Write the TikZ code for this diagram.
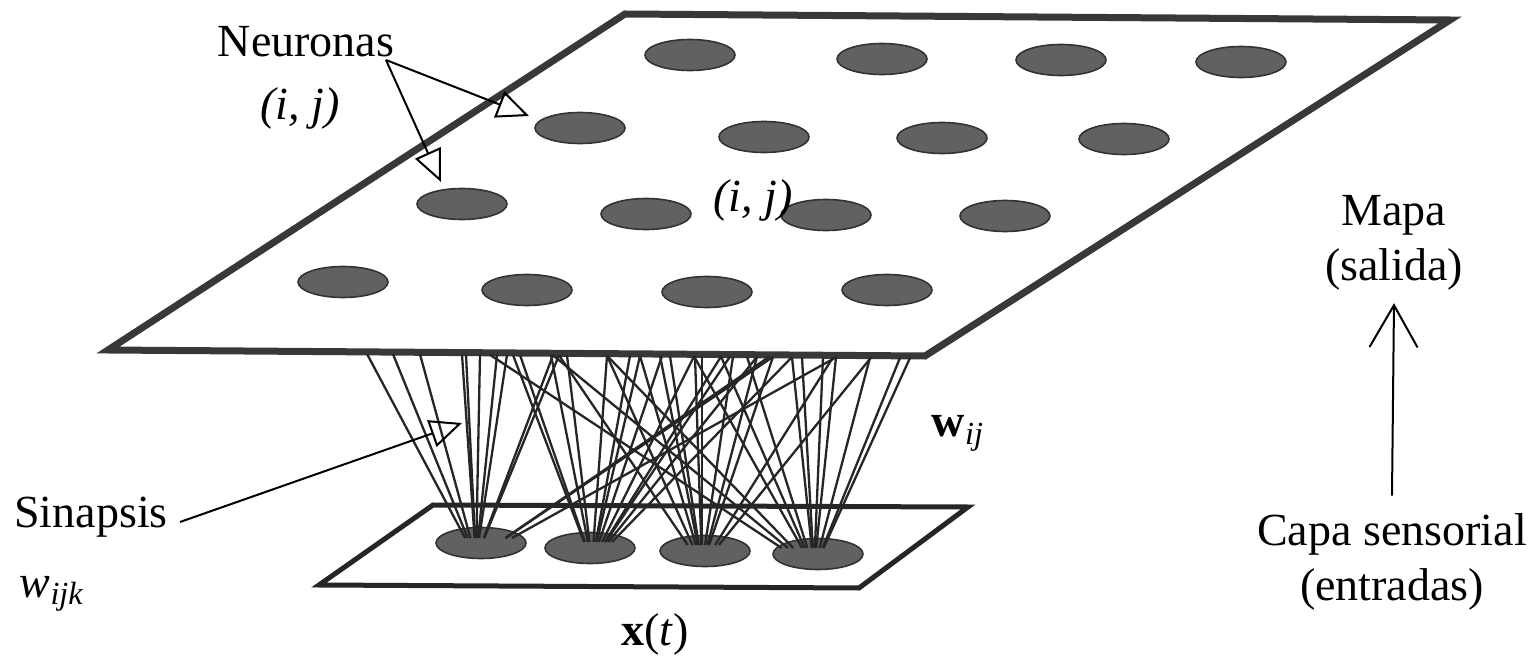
\documentclass[tikz,border=0pt]{standalone}
\usepackage{fontspec}
\setmainfont{Liberation Serif}
\usetikzlibrary{shapes.geometric,arrows.meta,calc}
\begin{document}
\begin{tikzpicture}[x=0.5pt,y=-0.5pt,
  lbl/.style={font=\fontsize{23}{27.5}\selectfont, inner sep=0pt, anchor=base},
  neuron/.style={ellipse, draw=black!80, fill=black!62, line width=0.8pt, minimum width=45pt, minimum height=15.5pt, inner sep=0pt},
  mapplane/.style={draw=black!78, line width=3.5pt, line join=miter},
  inplane/.style={draw=black!85, line width=2.5pt, line join=miter},
  syn/.style={draw=black!85, line width=1.15pt},
  ptr/.style={draw=black, line width=1pt, -{Triangle[open,length=16pt,width=14pt,line width=1pt]}},
  updir/.style={draw=black, line width=1pt, -{Straight Barb[length=21pt,width=24pt,line width=1pt]}},
]
\useasboundingbox (0,0) rectangle (1539,658);
% planes
\draw[mapplane] (625,14) -- (1450,20) -- (925,356) -- (108,350) -- cycle;
\draw[inplane] (433,505) -- (968,507) -- (859,588) -- (319,585) -- cycle;
% map neurons
\node[neuron] (m11) at (690,55) {};
\node[neuron] (m12) at (882,59) {};
\node[neuron] (m13) at (1061,60) {};
\node[neuron] (m14) at (1241,62) {};
\node[neuron] (m21) at (580,128) {};
\node[neuron] (m22) at (764,137) {};
\node[neuron] (m23) at (942,138) {};
\node[neuron] (m24) at (1124,139) {};
\node[neuron] (m31) at (462,204) {};
\node[neuron] (m32) at (646,214) {};
\node[neuron] (m33) at (826,215) {};
\node[neuron] (m34) at (1005,216) {};
\node[neuron] (m41) at (343,282) {};
\node[neuron] (m42) at (527,290) {};
\node[neuron] (m43) at (707,292) {};
\node[neuron] (m44) at (887,290) {};
% sensor neurons
\node[neuron] (s1) at (481,543) {};
\node[neuron] (s2) at (590,548) {};
\node[neuron] (s3) at (705,551) {};
\node[neuron] (s4) at (818,554) {};
% synapses
\foreach [count=\i] \tx/\k in {367/0,393/0,420/0,462/0,466/0,480/0,497/0,507/0,553/0,559/0,769/0,773/0,836/0,
  513/1,520/1,551/1,567/1,607/1,630/1,640/1,662/1,694/1,721/1,730/1,757/1,792/1,
  559/2,607/2,640/2,660/2,670/2,695/2,702/2,733/2,757/2,773/2,833/2,871/2,
  490/3,553/3,607/3,694/3,721/3,747/3,792/3,802/3,823/3,836/3,870/3,900/3,910/3}{
  \pgfmathsetmacro\ty{352+6*(\tx-108)/817}
  \pgfmathsetmacro\cx{{476,592,702,814}[\k]}
  \pgfmathsetmacro\cy{{538,542,545,548}[\k]}
  \pgfmathsetmacro\bx{\cx+0.1*(\tx-\cx)}
  \coordinate (t\i) at (\tx,\ty);
  \coordinate (b\i) at (\bx,\cy);
  \draw[syn] (t\i) -- (b\i);
}
% labels
\node[lbl] (neur) at (306,57) {Neuronas};
\node[lbl] (ijA) at (300,120) {\textit{(i, j)}};
\node[lbl] (ijB) at (753,212) {\textit{(i, j)}};
\node[lbl] (sinap) at (91,527) {Sinapsis};
\node[lbl] (wijk) at (52,597) {\textit{w}\textsubscript{\textit{ijk}}};
\node[lbl] (xt) at (655,645) {\textbf{x}(\textit{t})};
\node[lbl] (wij) at (958,437) {\textbf{w}\textsubscript{\textit{ij}}};
\node[lbl, align=center] (mapa) at (1394,280) {Mapa\\(salida)};
\node[lbl, align=center] (capa) at (1392,600) {Capa sensorial\\(entradas)};
% pointers
\coordinate (napex) at (386,60);
\coordinate (ntipA) at (529,116);
\coordinate (ntipB) at (441,182);
\draw[ptr] (napex) -- (ntipA);
\draw[ptr] (napex) -- (ntipB);
\coordinate (stail) at (180,522);
\coordinate (stip) at (462,423);
\draw[ptr] (stail) -- (stip);
\draw[updir] (capa.north) ++(0,-17) -- ($(mapa.south)+(0,13)$);
\end{tikzpicture}
\end{document}
